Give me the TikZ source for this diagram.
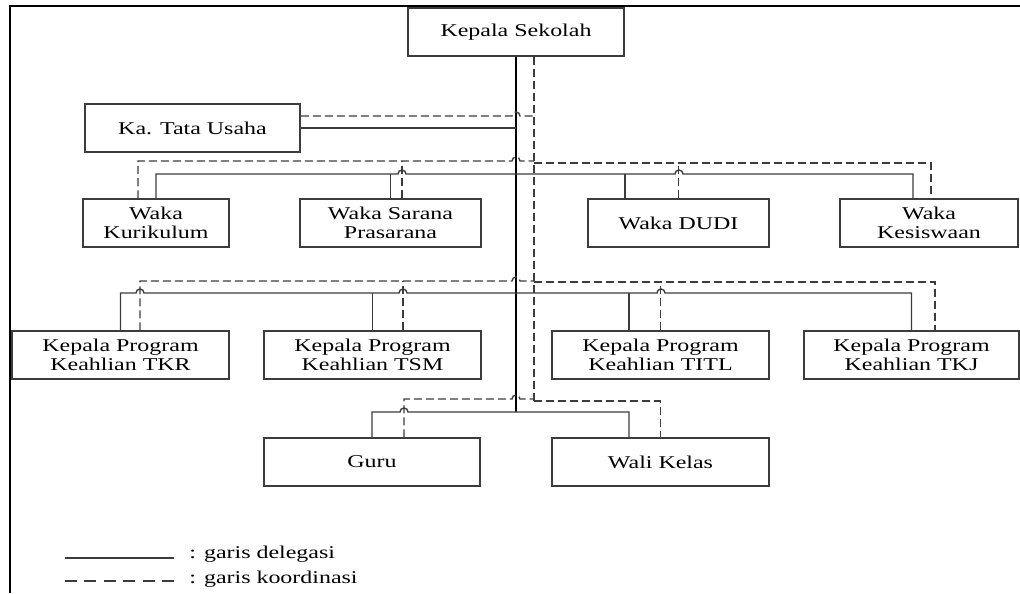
\documentclass[tikz,border=0pt]{standalone}
\usepackage{fontspec}
\newfontfamily\orgfont[FakeStretch=1.33]{Liberation Serif}
\definecolor{garisabu}{HTML}{3C3C3C}
\tikzset{
  kotak/.style={draw=garisabu, line width=0.75pt, inner sep=0pt, minimum height=24pt,
    align=center, font=\orgfont\fontsize{9}{9.5}\selectfont},
  garisdel/.style={draw=garisabu, line width=0.7pt},
  gariskoor/.style={draw=garisabu, line width=0.7pt, dash pattern=on 4pt off 2pt},
  hop/.style={start angle=180, end angle=0, radius=2pt},
}
\begin{document}
\begin{tikzpicture}[x=0.5pt, y=-0.5pt]
        \useasboundingbox (0,0) rectangle (1020,593);
        \draw[line width=1pt] (10,593) -- (10,6) -- (1020,6);
        % kotak jabatan
        \node[kotak, minimum width=108pt] (ks) at (516,32) {Kepala Sekolah};
        \node[kotak, minimum width=107.5pt] (tu) at (192.5,128) {Ka. Tata Usaha};
        \node[kotak, minimum width=73pt] (kur) at (156,223) {Waka\\Kurikulum};
        \node[kotak, minimum width=90.5pt] (sar) at (390.5,223) {Waka Sarana\\Prasarana};
        \node[kotak, minimum width=90.5pt] (dudi) at (678.5,223) {Waka DUDI};
        \node[kotak, minimum width=89pt] (kes) at (929,223) {Waka\\Kesiswaan};
        \node[kotak, minimum width=108.5pt] (tkr) at (120.5,355) {Kepala Program\\Keahlian TKR};
        \node[kotak, minimum width=108.5pt] (tsm) at (372.5,355) {Kepala Program\\Keahlian TSM};
        \node[kotak, minimum width=108.5pt] (titl) at (660.5,355) {Kepala Program\\Keahlian TITL};
        \node[kotak, minimum width=107.5pt] (tkj) at (911.5,355) {Kepala Program\\Keahlian TKJ};
        \node[kotak, minimum width=108pt] (guru) at (372,462) {Guru};
        \node[kotak, minimum width=108.5pt] (wali) at (660.5,462) {Wali Kelas};
        % garis delegasi
        \draw[garisdel, draw=black, line width=0.8pt] (ks.south) -- (516,412);
        \draw[garisdel] (tu.east) -- (516,128);
        \draw[garisdel] (kur.north) |- (398,174) arc[hop] -- (675,174) arc[hop]
            -| ([xshift=-8pt]kes.north);
        \draw[garisdel] (sar.north) -- (390.5,174);
        \draw[garisdel] ([xshift=-26.75pt]dudi.north) -- (625,174);
        \draw[garisdel] (tkr.north) |- (136,293) arc[hop] -- (399,293) arc[hop]
            -- (657,293) arc[hop] -| (tkj.north);
        \draw[garisdel] (tsm.north) -- (372.5,293);
        \draw[garisdel] ([xshift=-15.75pt]titl.north) -- (629,293);
        \draw[garisdel] (guru.north) |- (400,412) arc[hop] -| ([xshift=-15.75pt]wali.north);
        % garis koordinasi
        \draw[gariskoor] ([xshift=9pt]ks.south) -- (534,401);
        \draw[gariskoor] ([yshift=6pt]tu.east) -- (512,116) arc[hop] -- (534,116);
        \draw[gariskoor] ([xshift=-9pt]kur.north) |- (512,161) arc[hop] -- (534,161);
        \draw[gariskoor] ([xshift=5.75pt]sar.north) -- (402,161);
        \draw[gariskoor] (534,163) -| ([xshift=1pt]kes.north);
        \draw[gariskoor] (dudi.north) -- (678.5,163);
        \draw[gariskoor] ([xshift=9.75pt]tkr.north) |- (512,281) arc[hop] -- (534,281);
        \draw[gariskoor] ([xshift=15.25pt]tsm.north) -- (403,281);
        \draw[gariskoor] (534,282) -| ([xshift=11.75pt]tkj.north);
        \draw[gariskoor] (titl.north) -- (660.5,282);
        \draw[gariskoor] ([xshift=16pt]guru.north) |- (512,399) arc[hop] -- (534,399);
        \draw[gariskoor] (534,401) -| (wali.north);
        % keterangan
        \draw[garisdel] (65,558) -- (174,558);
        \node[anchor=base west, inner sep=0pt, font=\orgfont\fontsize{9}{9.5}\selectfont]
            (ketdel) at (189,558) {: garis delegasi};
        \draw[garisdel, dash pattern=on 6pt off 3.7pt] (65,581) -- (174,581);
        \node[anchor=base west, inner sep=0pt, font=\orgfont\fontsize{9}{9.5}\selectfont]
            (ketkoor) at (189,583) {: garis koordinasi};
\end{tikzpicture}
\end{document}
